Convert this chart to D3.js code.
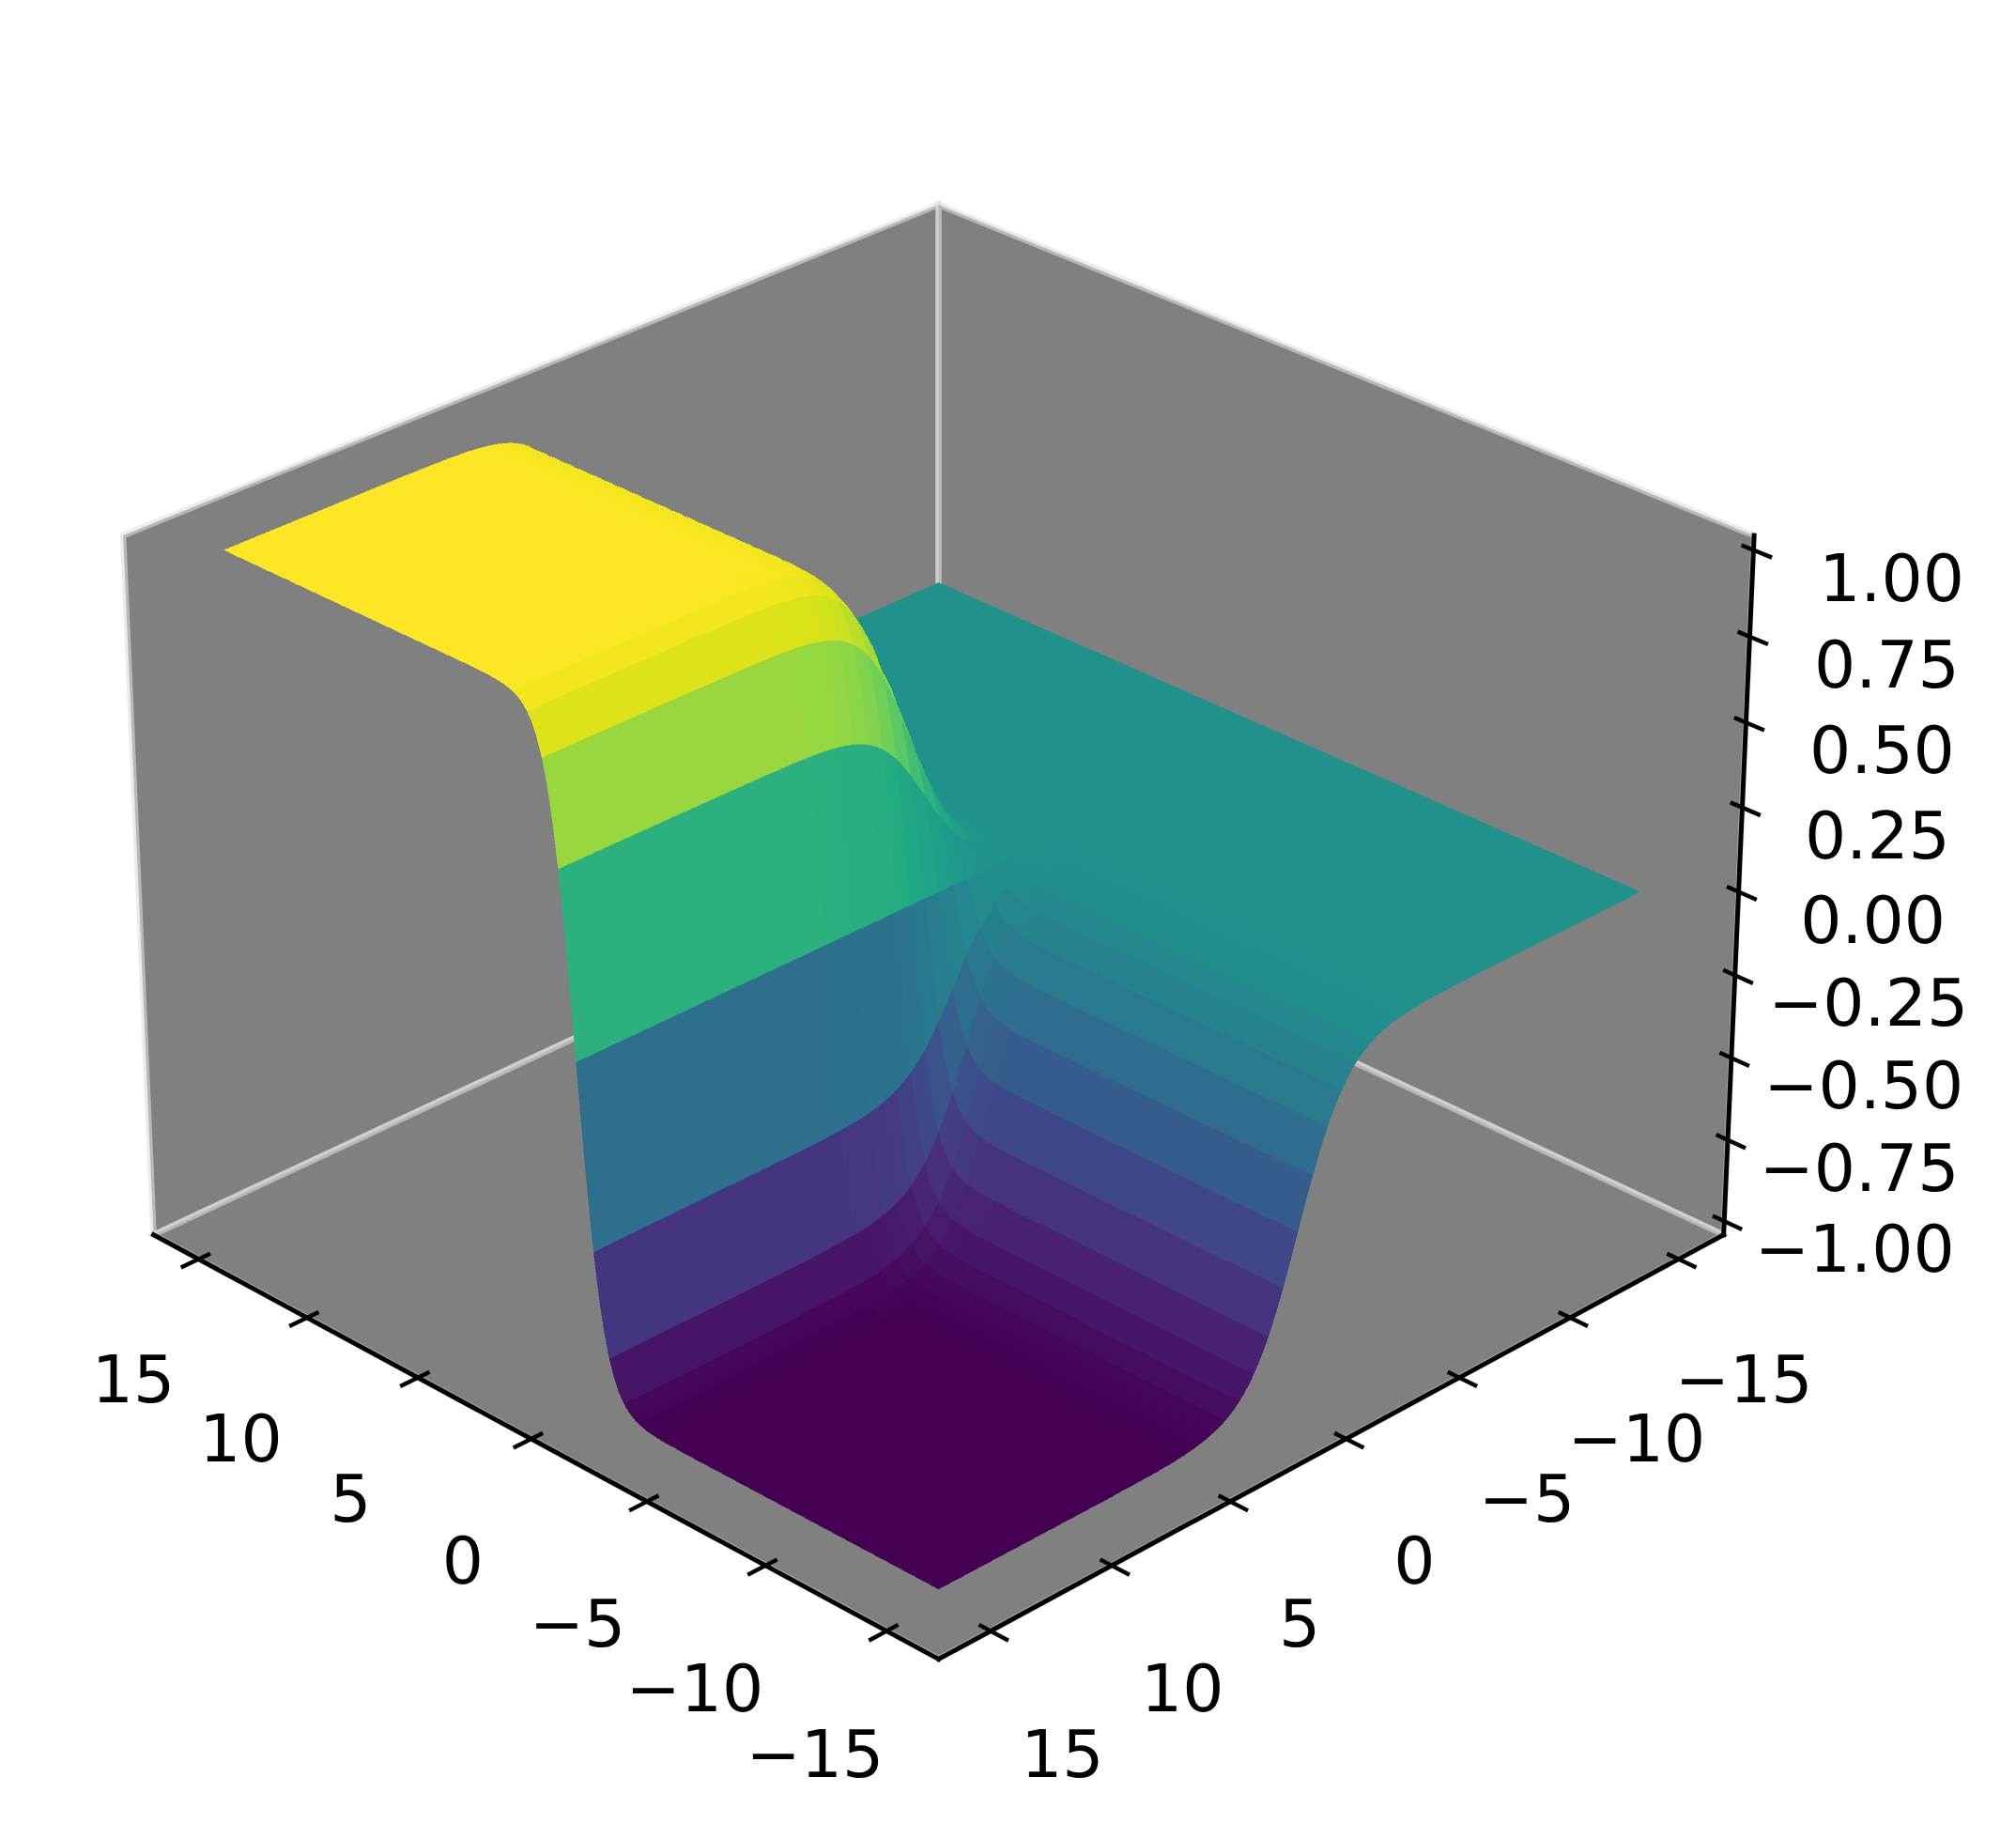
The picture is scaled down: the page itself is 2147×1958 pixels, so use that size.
<!DOCTYPE html>
<html><head><meta charset="utf-8">
<script src="https://cdn.jsdelivr.net/npm/d3@7"></script>
<style>html,body{margin:0;padding:0;background:#fff}svg{display:block}text{font-family:"DejaVu Sans";fill:#000}</style>
</head><body><svg id="c" width="2147" height="1958"></svg>
<script>
// ---- chart values ----
const xTicks=[15,10,5,0,-5,-10,-15];
const yTicks=[-15,-10,-5,0,5,10,15];
const zTicks=[1,0.75,0.5,0.25,0,-0.25,-0.5,-0.75,-1];
// height across x, at steps of 0.2 from x=0 (stays level after the last entry, mirrored with sign for x<0)
const xProfile=[0,.197,.380,.537,.664,.762,.834,.885,.922,.947,.964,.976,.984,.989,.993,.995,.997,.998,.999,.999,.999,1];
// share of that height across y, at steps of 0.2 from y=0 (stays level after the last entry, complement for y<0)
const yProfile=[.5,.550,.599,.646,.690,.731,.769,.802,.832,.858,.881,.900,.917,.931,.943,.953,.961,.968,.973,.978,.982,.985,.988,.990,.992,.993,.995,.996,.996,.997,.998,.998,.998,.999,.999,.999,.999,.999,.999,1];
const surfaceExtent=15, axisLimit=17.17, paneLimit=17.11, zLimit=1.0417, profileStep=0.2, cellSteps=3;

// ---- view ----
const elev=27.7*Math.PI/180, dist=10, cx=999.6, cy=949.5, kx=10155, ky=10250;
const sE=Math.sin(elev), cE=Math.cos(elev);
const scX=d3.scaleLinear().domain([-axisLimit,axisLimit]).range([-.5953,.5953]);
const scY=d3.scaleLinear().domain([-axisLimit,axisLimit]).range([-.5953,.5953]);
const scZ=d3.scaleLinear().domain([-zLimit,zLimit]).range([-.41,.41]);
function project(x,y,z){
  const X=scX(x),Y=scY(y),Z=scZ(z);
  const f=(Y-X)/Math.SQRT2, s=(X+Y)/Math.SQRT2;
  const depth=dist-(cE*f+sE*Z), ye=-sE*f+cE*Z;
  return {px:cx-kx*s/depth, py:cy-ky*ye/depth, depth};
}
const P=(x,y,z)=>{const p=project(x,y,z);return [p.px,p.py];};
const line=d3.line();
const svg=d3.select('#c');
svg.append('rect').attr('width',2147).attr('height',1958).attr('fill','#fff');

// ---- panes ----
const L=paneLimit,H=zLimit;
const panes=[
 [[L,L,-H],[L,-L,-H],[L,-L,H],[L,L,H]],
 [[L,-L,-H],[-L,-L,-H],[-L,-L,H],[L,-L,H]],
 [[L,L,-H],[-L,L,-H],[-L,-L,-H],[L,-L,-H]]
];
svg.append('g').selectAll('path').data(panes).join('path')
  .attr('d',d=>line(d.map(q=>P(...q)))+'Z').attr('fill','#808080')
  .attr('stroke','rgba(222,222,222,0.6)').attr('stroke-width',6.5).attr('stroke-linejoin','miter');

// ---- surface ----
function lookup(tab,v){const i=Math.round(Math.abs(v)/profileStep);return tab[Math.min(i,tab.length-1)];}
const height=(x,y)=>{
  const a=lookup(xProfile,x)*(x<0?-1:1);
  const b=lookup(yProfile,y); return a*(y<0?1-b:b);
};
const nodes=d3.range(Math.round(2*surfaceExtent/profileStep)+1).map(i=>-surfaceExtent+i*profileStep);
const cells=[];
const nCells=(nodes.length-1)/cellSteps;
for(let i=0;i<nCells;i++)for(let j=0;j<nCells;j++){
  const per=[];
  const i0=i*cellSteps,j0=j*cellSteps;
  for(let k=0;k<cellSteps;k++)per.push([nodes[i0+k],nodes[j0]]);
  for(let k=0;k<cellSteps;k++)per.push([nodes[i0+cellSteps],nodes[j0+k]]);
  for(let k=0;k<cellSteps;k++)per.push([nodes[i0+cellSteps-k],nodes[j0+cellSteps]]);
  for(let k=0;k<cellSteps;k++)per.push([nodes[i0],nodes[j0+cellSteps-k]]);
  const pts3=per.map(([x,y])=>[x,y,height(x,y)]);
  const proj=pts3.map(q=>project(...q));
  cells.push({avg:d3.mean(pts3,q=>q[2]),depth:d3.mean(proj,q=>q.depth),pts:proj.map(q=>[q.px,q.py])});
}
const colorScale=d3.scaleSequential(d3.interpolateViridis).domain(d3.extent(cells,c=>c.avg));
cells.sort((a,b)=>b.depth-a.depth);
svg.append('g').attr('shape-rendering','crispEdges').selectAll('path').data(cells).join('path')
  .attr('d',c=>line(c.pts)+'Z').attr('fill',c=>colorScale(c.avg))
  .attr('stroke',c=>colorScale(c.avg)).attr('stroke-width',0.6);

// ---- axes ----
const axisG=svg.append('g').attr('stroke','#000').attr('fill','none');
const axLines=[[[L,L,-H],[-L,L,-H]],[[-L,L,-H],[-L,-L,-H]],[[-L,-L,-H],[-L,-L,H]]];
axisG.selectAll('path.ax').data(axLines).join('path').attr('class','ax')
  .attr('d',d=>line(d.map(q=>P(...q)))).attr('stroke-width',5).attr('stroke-linecap','square');
const tickOut=.72,tickIn=.47;
const ticks=[
 ...xTicks.map(v=>({a:[v,L+tickOut,-H],b:[v,L-tickIn,-H]})),
 ...yTicks.map(v=>({a:[-L-tickOut,v,-H],b:[-L+tickIn,v,-H]})),
 ...zTicks.map(v=>({a:[-L-tickOut,-L,v],b:[-L+tickIn,-L,v]}))
];
axisG.selectAll('path.tk').data(ticks).join('path').attr('class','tk')
  .attr('d',d=>line([P(...d.a),P(...d.b)])).attr('stroke-width',4.4);

const minus=s=>s.replace('-','\u2212');
const labels=[
 ...xTicks.map(v=>{const p=P(v,L,-H);return{t:minus(String(v)),x:p[0]-73+v*.23,y:p[1]+129.5-v*.1};}),
 ...yTicks.map(v=>{const p=P(-L,v,-H);return{t:minus(String(v)),x:p[0]+73+v*.23,y:p[1]+129.5+v*.1};}),
 ...zTicks.map(v=>{const p=P(-L,-L,v);return{t:minus(v.toFixed(2)),x:p[0]+143+v*4.1,y:p[1]+29.5};})
];
svg.append('g').selectAll('text').data(labels).join('text')
  .attr('x',d=>d.x).attr('y',d=>d.y).attr('text-anchor','middle').attr('dominant-baseline','central')
  .attr('font-size',69.5).text(d=>d.t);
</script></body></html>
